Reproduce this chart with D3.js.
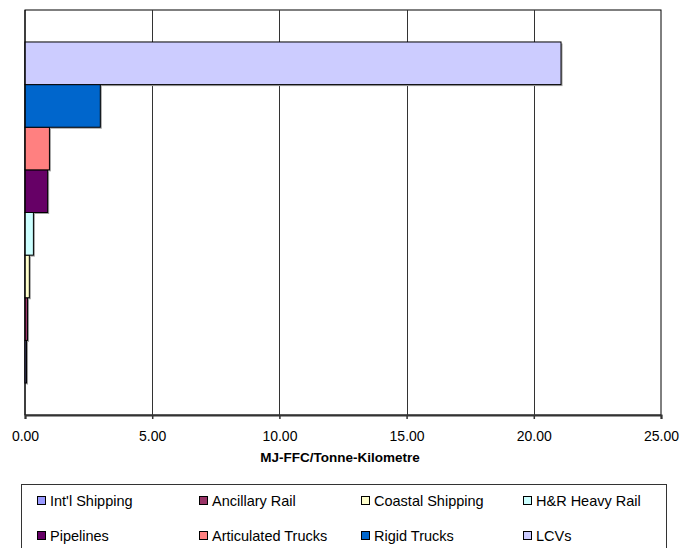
<!DOCTYPE html>
<html>
<head>
<meta charset="utf-8">
<script src="https://cdn.jsdelivr.net/npm/d3@7"></script>
<style>
  html, body { margin: 0; padding: 0; background: #fff; }
  svg { display: block; font-family: Arial, "Liberation Sans", sans-serif; }
</style>
</head>
<body>
<svg id="chart" width="680" height="548"></svg>
<script>
// Energy intensity by freight mode (MJ full fuel cycle per tonne-km)
const modes = ["Int'l Shipping", "Ancillary Rail", "Coastal Shipping", "H&R Heavy Rail",
               "Pipelines", "Articulated Trucks", "Rigid Trucks", "LCVs"];
const intensity = [0.06, 0.10, 0.17, 0.33, 0.89, 0.96, 2.96, 21.07];
const colours = ["#9999FF", "#993366", "#FFFFCC", "#CCFFFF",
                 "#660066", "#FF8080", "#0066CC", "#CCCCFF"];
const xTicks = [0, 5, 10, 15, 20, 25];
const xTitle = "MJ-FFC/Tonne-Kilometre";

const svg = d3.select("#chart");
const plot = { left: 25, top: 10, right: 661, bottom: 415 };

const x = d3.scaleLinear().domain([0, 25]).range([plot.left, plot.right]);
// first series sits at the bottom, as in a spreadsheet bar chart
const y = d3.scaleBand()
  .domain(modes.slice().reverse())
  .range([plot.top, plot.bottom])
  .paddingInner(0)
  .paddingOuter(0.75);

const data = modes.map((m, i) => ({ mode: m, value: intensity[i], colour: colours[i] }));

// plot frame
svg.append("rect")
  .attr("x", plot.left).attr("y", plot.top)
  .attr("width", plot.right - plot.left).attr("height", plot.bottom - plot.top)
  .attr("fill", "#fff").attr("stroke", "#000").attr("stroke-width", 1);

// vertical gridlines
svg.append("g")
  .selectAll("line")
  .data(xTicks.slice(1, -1))
  .join("line")
  .attr("x1", d => Math.round(x(d)) + 0.5).attr("x2", d => Math.round(x(d)) + 0.5)
  .attr("y1", plot.top).attr("y2", plot.bottom)
  .attr("stroke", "#333").attr("stroke-width", 1);

// bar shadows
svg.append("g")
  .selectAll("rect")
  .data(data)
  .join("rect")
  .attr("x", x(0) + 1.5)
  .attr("y", d => y(d.mode) + 1.5)
  .attr("width", d => x(d.value) - x(0))
  .attr("height", y.bandwidth())
  .attr("fill", "#a0a0a0");

// bars
svg.append("g")
  .selectAll("rect")
  .data(data)
  .join("rect")
  .attr("x", x(0))
  .attr("y", d => y(d.mode))
  .attr("width", d => x(d.value) - x(0))
  .attr("height", y.bandwidth())
  .attr("fill", d => d.colour)
  .attr("stroke", "#000")
  .attr("stroke-width", 1);

// left edge line redrawn over bars
svg.append("line")
  .attr("x1", plot.left).attr("x2", plot.left)
  .attr("y1", plot.top).attr("y2", plot.bottom)
  .attr("stroke", "#000");

// x axis
const xAxis = d3.axisBottom(x)
  .tickValues(xTicks)
  .tickSize(4)
  .tickPadding(12)
  .tickFormat(d3.format(".2f"));

const gx = svg.append("g")
  .attr("transform", `translate(0,${plot.bottom})`)
  .call(xAxis);
gx.select(".domain").attr("stroke", "#333").attr("stroke-width", 2);
gx.selectAll(".tick line").attr("stroke", "#333").attr("stroke-width", 1.5);
gx.selectAll(".tick text")
  .attr("fill", "#000")
  .style("font-size", "14px")
  .style("font-family", "Arial, 'Liberation Sans', sans-serif");

svg.append("text")
  .attr("x", 340)
  .attr("y", 462)
  .attr("text-anchor", "middle")
  .style("font-size", "13.5px")
  .style("font-weight", "bold")
  .text(xTitle);

// legend
const legend = svg.append("g");
legend.append("rect")
  .attr("x", 21.5).attr("y", 484.5)
  .attr("width", 645).attr("height", 80)
  .attr("fill", "#fff").attr("stroke", "#333").attr("stroke-width", 1);

const colX = [37, 199, 361, 523];
const rowY = [501, 536];
const items = legend.selectAll("g.item")
  .data(data)
  .join("g")
  .attr("class", "item")
  .attr("transform", (d, i) => `translate(${colX[i % 4]},${rowY[Math.floor(i / 4)]})`);

items.append("rect")
  .attr("x", 0.5).attr("y", -4.5)
  .attr("width", 8).attr("height", 8)
  .attr("fill", d => d.colour)
  .attr("stroke", "#000").attr("stroke-width", 1);

items.append("text")
  .attr("x", 13).attr("y", 0)
  .attr("dy", "0.36em")
  .style("font-size", "14.5px")
  .text(d => d.mode);
</script>
</body>
</html>
